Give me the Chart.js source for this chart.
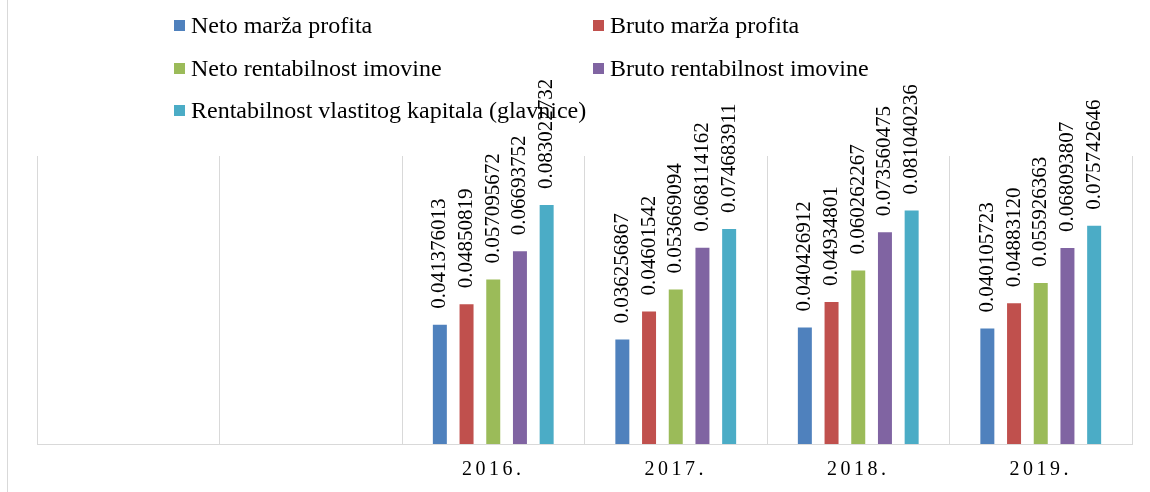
<!DOCTYPE html>
<html>
<head>
<meta charset="utf-8">
<script src="https://cdn.jsdelivr.net/npm/chart.js@4.4.1/dist/chart.umd.min.js"></script>
<style>
  html, body { margin: 0; padding: 0; background: #fff; }
  #wrap { position: relative; width: 1150px; height: 492px; overflow: hidden; }
  #chart { position: absolute; left: 0; top: 0; }
  #leftBorder { position: absolute; left: 7px; top: 0; width: 1px; height: 492px; background: #d9d9d9; }
  .lg-box { position: absolute; width: 11px; height: 11px; }
  .lg-text { position: absolute; font-family: "Liberation Serif", "Times New Roman", serif; font-size: 24px; line-height: 24px; color: #000; white-space: nowrap; }
</style>
</head>
<body>
<div id="wrap">
  <div id="leftBorder"></div>
  <canvas id="chart" width="1150" height="492"></canvas>
  <div id="legend"></div>
</div>
<script>
// ---- data ----
const categories = ['', '', '2016.', '2017.', '2018.', '2019.'];
const seriesNames = [
  'Neto marža profita',
  'Bruto marža profita',
  'Neto rentabilnost imovine',
  'Bruto rentabilnost imovine',
  'Rentabilnost vlastitog kapitala (glavnice)'
];
const netoMarza = [null, null, 0.041376013, 0.036256867, 0.040426912, 0.040105723];
const brutoMarza = [null, null, 0.04850819, 0.04601542, 0.04934801, 0.0488312];
const netoRentImovine = [null, null, 0.057095672, 0.053669094, 0.060262267, 0.055926363];
const brutoRentImovine = [null, null, 0.06693752, 0.068114162, 0.073560475, 0.068093807];
const rentKapitala = [null, null, 0.083022732, 0.074683911, 0.081040236, 0.075742646];
const seriesColors = ['#4F81BD', '#C0504D', '#9BBB59', '#8064A2', '#4BACC6'];

const seriesData = [netoMarza, brutoMarza, netoRentImovine, brutoRentImovine, rentKapitala];

// ---- legend (HTML, two columns) ----
const legendEl = document.getElementById('legend');
const colX = [174, 593];
const rowBase = [13, 56, 97.5];
const rowBox = [19.5, 63, 105];
seriesNames.forEach((name, i) => {
  const col = i % 2, row = Math.floor(i / 2);
  const b = document.createElement('div');
  b.className = 'lg-box';
  b.style.left = colX[col] + 'px';
  b.style.top = rowBox[row] + 'px';
  b.style.background = seriesColors[i];
  legendEl.appendChild(b);
  const t = document.createElement('div');
  t.className = 'lg-text';
  t.style.left = (colX[col] + 17) + 'px';
  t.style.top = rowBase[row] + 'px';
  t.textContent = name;
  legendEl.appendChild(t);
});

// ---- plugins ----
const valueLabels = {
  id: 'valueLabels',
  afterDatasetsDraw(chart) {
    const ctx = chart.ctx;
    chart.data.datasets.forEach((ds, di) => {
      const meta = chart.getDatasetMeta(di);
      meta.data.forEach((bar, i) => {
        const v = ds.data[i];
        if (v === null || v === undefined) return;
        const txt = String(v).padEnd(10, '0');
        ctx.save();
        ctx.translate(bar.x, bar.y - 16);
        ctx.rotate(-Math.PI / 2);
        ctx.font = '21px "Liberation Serif", "Times New Roman", serif';
        ctx.fillStyle = '#000';
        ctx.textAlign = 'left';
        ctx.textBaseline = 'middle';
        ctx.fillText(txt, 0, 0);
        ctx.restore();
      });
    });
  }
};

const tickSpacing = {
  id: 'tickSpacing',
  beforeDraw(chart) {
    const s = chart.scales.x;
    if (s && !s._lsWrapped) {
      const orig = s.drawLabels;
      s.drawLabels = function (area) {
        const ctx = this.ctx;
        ctx.save();
        ctx.letterSpacing = '3.5px';
        orig.call(this, area);
        ctx.restore();
      };
      s._lsWrapped = true;
    }
  }
};

// ---- chart ----
new Chart(document.getElementById('chart'), {
  type: 'bar',
  data: {
    labels: categories,
    datasets: seriesNames.map((n, i) => ({
      label: n,
      data: seriesData[i],
      backgroundColor: seriesColors[i],
      borderWidth: 0,
      categoryPercentage: 0.7315,
      barPercentage: 0.524
    }))
  },
  options: {
    responsive: false,
    animation: false,
    layout: { padding: { left: 37, right: 18, top: 156, bottom: 0 } },
    plugins: {
      legend: { display: false },
      tooltip: { enabled: false },
      title: { display: false }
    },
    scales: {
      x: {
        grid: { display: true, color: '#d9d9d9', lineWidth: 1, drawTicks: false, offset: true },
        border: { display: true, color: '#d9d9d9', width: 1 },
        ticks: {
          color: '#000',
          padding: 14,
          maxRotation: 0,
          autoSkip: false,
          font: { family: '"Liberation Serif", "Times New Roman", serif', size: 20 }
        },
        afterFit(scale) { scale.height = 48; }
      },
      y: {
        display: false,
        min: 0,
        max: 0.1
      }
    }
  },
  plugins: [valueLabels, tickSpacing]
});
</script>
</body>
</html>
